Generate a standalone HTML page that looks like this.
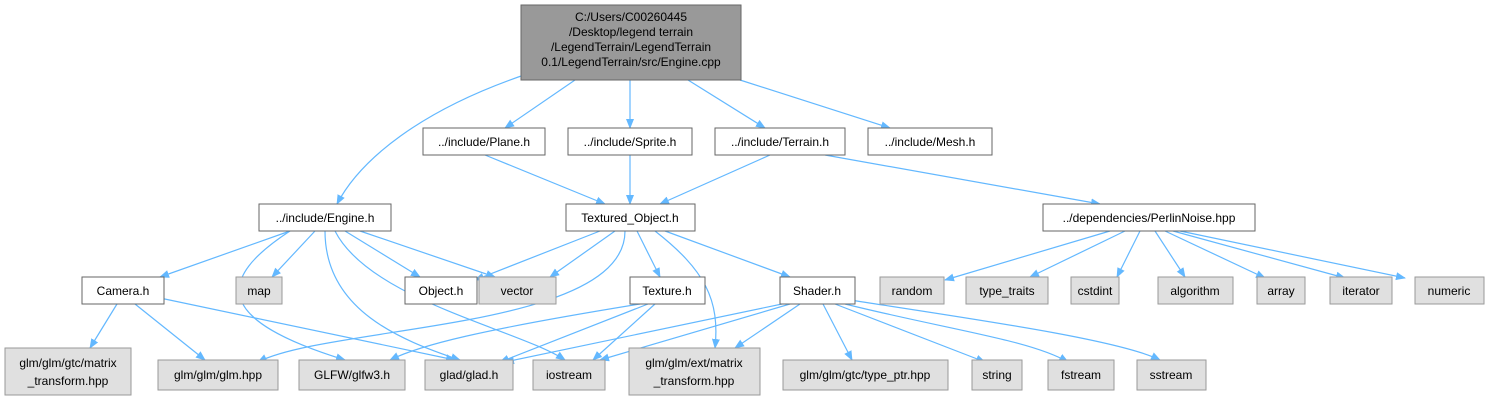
<!DOCTYPE html>
<html><head><meta charset="utf-8"><style>
body{margin:0;background:#fff;}
svg{display:block;font-family:"Liberation Sans",Arial,sans-serif;font-size:12px;}
.w{fill:#fff;stroke:#666;stroke-width:1}
.g{fill:#e0e0e0;stroke:#999;stroke-width:1}
.e{fill:none;stroke:#63b8ff;stroke-width:1.2;marker-end:url(#a)}
text{text-anchor:middle;fill:#000}
</style></head><body>
<svg width="1490" height="400" viewBox="0 0 1490 400">
<defs><marker id="a" markerWidth="10" markerHeight="10" refX="9" refY="5" orient="auto" markerUnits="userSpaceOnUse"><path d="M0,1 L10,5 L0,9 z" fill="#63b8ff"/></marker></defs>
<path class="e" d="M527,74 C420,110 360,160 337,204"/>
<path class="e" d="M575,80 L505,128"/>
<path class="e" d="M630,80 L630,128"/>
<path class="e" d="M688,80 L765,128"/>
<path class="e" d="M740,80 L890,128"/>
<path class="e" d="M485,155 L605,204"/>
<path class="e" d="M630,155 L630,204"/>
<path class="e" d="M770,155 L660,204"/>
<path class="e" d="M825,155 L1100,204"/>
<path class="e" d="M290,231 L160,277"/>
<path class="e" d="M315,231 L272,277"/>
<path class="e" d="M345,231 L420,277"/>
<path class="e" d="M360,231 L495,277"/>
<path class="e" d="M290,231 C215,280 215,320 345,360"/>
<path class="e" d="M325,231 C325,310 400,340 460,360"/>
<path class="e" d="M335,231 C370,300 520,330 565,360"/>
<path class="e" d="M600,231 L475,280"/>
<path class="e" d="M615,231 L550,277"/>
<path class="e" d="M637,231 L660,277"/>
<path class="e" d="M665,231 L790,277"/>
<path class="e" d="M625,231 C625,330 330,325 258,362"/>
<path class="e" d="M655,231 C705,270 720,300 715,348"/>
<path class="e" d="M117,304 L90,348"/>
<path class="e" d="M135,304 L205,360"/>
<path class="e" d="M160,298 L455,360"/>
<path class="e" d="M640,304 C480,330 420,345 390,360"/>
<path class="e" d="M648,304 L500,362"/>
<path class="e" d="M655,304 L593,360"/>
<path class="e" d="M782,304 L505,362"/>
<path class="e" d="M790,304 L600,360"/>
<path class="e" d="M800,304 L735,348"/>
<path class="e" d="M823,304 L852,360"/>
<path class="e" d="M835,304 L985,362"/>
<path class="e" d="M845,304 C950,330 1030,340 1068,362"/>
<path class="e" d="M850,300 C980,320 1120,340 1160,360"/>
<path class="e" d="M1110,231 L945,280"/>
<path class="e" d="M1125,231 L1030,277"/>
<path class="e" d="M1140,231 L1117,277"/>
<path class="e" d="M1155,231 L1185,277"/>
<path class="e" d="M1165,231 L1265,278"/>
<path class="e" d="M1173,231 L1345,278"/>
<path class="e" d="M1180,231 L1405,278"/>
<rect x="521" y="5" width="220" height="75" fill="#999" stroke="#666"/>
<text x="631" y="21">C:/Users/C00260445</text>
<text x="631" y="36">/Desktop/legend terrain</text>
<text x="631" y="51">/LegendTerrain/LegendTerrain</text>
<text x="631" y="66"> 0.1/LegendTerrain/src/Engine.cpp</text>
<rect class="w" x="423" y="128" width="122" height="27"/><text x="484" y="146">../include/Plane.h</text>
<rect class="w" x="568" y="128" width="124" height="27"/><text x="630" y="146">../include/Sprite.h</text>
<rect class="w" x="715" y="128" width="130" height="27"/><text x="780" y="146">../include/Terrain.h</text>
<rect class="w" x="868" y="128" width="124" height="27"/><text x="930" y="146">../include/Mesh.h</text>
<rect class="w" x="259" y="204" width="132" height="27"/><text x="325" y="222">../include/Engine.h</text>
<rect class="w" x="566" y="204" width="129" height="27"/><text x="630" y="222">Textured_Object.h</text>
<rect class="w" x="1043" y="204" width="212" height="27"/><text x="1149" y="222">../dependencies/PerlinNoise.hpp</text>
<rect class="w" x="82" y="277" width="82" height="27"/><text x="123" y="295">Camera.h</text>
<rect class="g" x="236" y="277" width="46" height="27"/><text x="259" y="295">map</text>
<rect class="w" x="405" y="277" width="72" height="27"/><text x="441" y="295">Object.h</text>
<rect class="g" x="479" y="277" width="77" height="27"/><text x="517" y="295">vector</text>
<rect class="w" x="630" y="277" width="75" height="27"/><text x="667" y="295">Texture.h</text>
<rect class="w" x="780" y="277" width="75" height="27"/><text x="817" y="295">Shader.h</text>
<rect class="g" x="880" y="277" width="64" height="27"/><text x="912" y="295">random</text>
<rect class="g" x="966" y="277" width="82" height="27"/><text x="1007" y="295">type_traits</text>
<rect class="g" x="1071" y="277" width="48" height="27"/><text x="1095" y="295">cstdint</text>
<rect class="g" x="1158" y="277" width="75" height="27"/><text x="1195" y="295">algorithm</text>
<rect class="g" x="1257" y="277" width="48" height="27"/><text x="1281" y="295">array</text>
<rect class="g" x="1330" y="277" width="62" height="27"/><text x="1361" y="295">iterator</text>
<rect class="g" x="1415" y="277" width="69" height="27"/><text x="1449" y="295">numeric</text>
<rect class="g" x="5" y="348" width="126" height="47"/><text x="68" y="367">glm/glm/gtc/matrix</text><text x="68" y="385">_transform.hpp</text>
<rect class="g" x="158" y="360" width="120" height="30"/><text x="218" y="379">glm/glm/glm.hpp</text>
<rect class="g" x="299" y="360" width="106" height="30"/><text x="352" y="379">GLFW/glfw3.h</text>
<rect class="g" x="425" y="360" width="88" height="30"/><text x="469" y="379">glad/glad.h</text>
<rect class="g" x="533" y="360" width="72" height="30"/><text x="569" y="379">iostream</text>
<rect class="g" x="629" y="348" width="131" height="47"/><text x="694" y="367">glm/glm/ext/matrix</text><text x="694" y="385">_transform.hpp</text>
<rect class="g" x="783" y="360" width="165" height="30"/><text x="865" y="379">glm/glm/gtc/type_ptr.hpp</text>
<rect class="g" x="972" y="360" width="50" height="30"/><text x="997" y="379">string</text>
<rect class="g" x="1048" y="360" width="66" height="30"/><text x="1081" y="379">fstream</text>
<rect class="g" x="1137" y="360" width="69" height="30"/><text x="1171" y="379">sstream</text>
</svg>
</body></html>
